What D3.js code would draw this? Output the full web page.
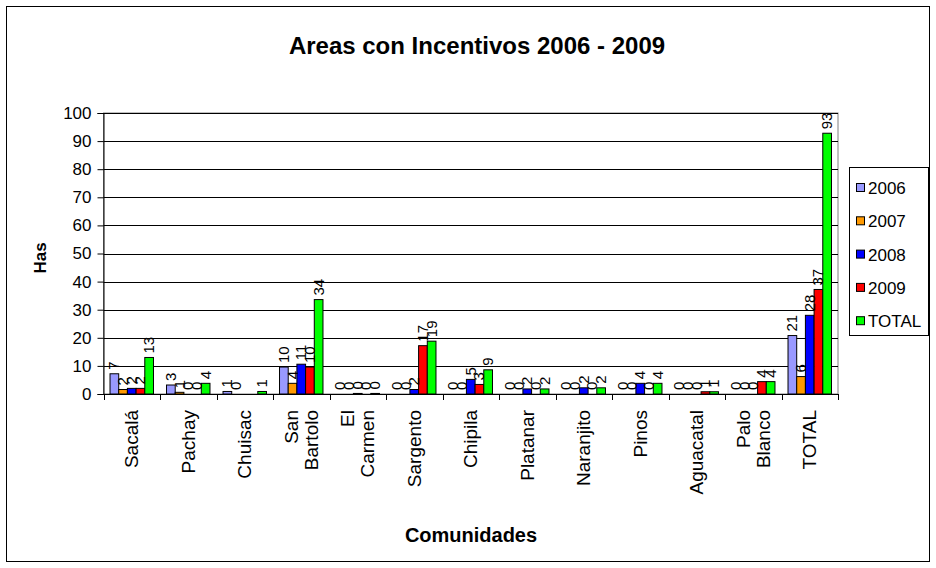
<!DOCTYPE html>
<html><head><meta charset="utf-8">
<script src="https://cdn.jsdelivr.net/npm/d3@7"></script>
<style>body{margin:0;background:#fff}svg{display:block}svg text{font-family:"Liberation Sans",Arial,sans-serif}</style>
</head><body><svg id="c" width="936" height="568"></svg>
<script>
const categories = [["Sacalá"],["Pachay"],["Chuisac"],["San","Bartolo"],["El","Carmen"],["Sargento"],["Chipila"],["Platanar"],["Naranjito"],["Pinos"],["Aguacatal"],["Palo","Blanco"],["TOTAL"]];
const seriesNames = ["2006","2007","2008","2009","TOTAL"];
const seriesColors = ["#9999FF","#FF9900","#0000FF","#FF0000","#00FF00"];
const v2006 = [7.2, 3.2, 0.9, 9.6, 0, 0, 0, 0, 0, 0, 0, 0, 20.8];
const v2007 = [1.6, 0.6, 0, 3.8, 0, 0, 0, 0, 0, 0, 0, 0, 6.2];
const v2008 = [2.0, 0, null, 10.6, 0.2, 1.6, 5.2, 1.8, 2.2, 3.8, 0, 0, 28.0];
const v2009 = [2.0, 0, null, 9.6, 0, 17.2, 3.4, 0, 0, 0, 0.8, 4.4, 37.2];
const vTotal = [13.0, 3.8, 0.9, 33.6, 0.2, 18.8, 8.6, 1.8, 2.2, 3.8, 0.8, 4.4, 92.8];
const yTicks = [0,10,20,30,40,50,60,70,80,90,100];
const seriesValues = [v2006, v2007, v2008, v2009, vTotal];

const FF = "'Liberation Sans', Arial, sans-serif";
const svg = d3.select("#c");
const L = 103.5, R = 838, T = 113, B = 394;

svg.append("rect").attr("x",6.5).attr("y",6.5).attr("width",923).attr("height",555)
  .attr("fill","#fff").attr("stroke","#000").attr("stroke-width",1);

const x = d3.scaleBand().domain(d3.range(categories.length)).range([L, R]).padding(0);
const gap = x.bandwidth()*1.5/6.5;
const xs = d3.scaleBand().domain(d3.range(seriesNames.length)).range([gap/2, x.bandwidth()-gap/2]).padding(0);
const y = d3.scaleLinear().domain([0,100]).range([B, T]);

svg.append("rect").attr("x",L).attr("y",T).attr("width",R-L).attr("height",B-T)
  .attr("fill","none").attr("stroke","#808080");
svg.append("g").selectAll("line").data(yTicks.filter(d=>d>0)).join("line")
  .attr("x1",L).attr("x2",R).attr("y1",d=>Math.round(y(d))+0.5).attr("y2",d=>Math.round(y(d))+0.5)
  .attr("stroke","#000");

const ya = svg.append("g").attr("transform",`translate(${L},0)`)
  .call(d3.axisLeft(y).tickValues(yTicks).tickSize(6).tickPadding(6));
ya.attr("font-family",FF);
ya.select(".domain").attr("stroke","#000");
ya.selectAll("text").attr("font-size","17px").attr("fill","#000");

const data = [];
categories.forEach((c,i)=>seriesValues.forEach((s,j)=>{ if(s[i]!==null) data.push({i,j,v:s[i]}); }));
svg.append("g").selectAll("rect").data(data.filter(d=>d.v>0)).join("rect")
  .attr("x",d=>x(d.i)+xs(d.j)).attr("width",xs.bandwidth())
  .attr("y",d=>y(d.v)).attr("height",d=>B-y(d.v))
  .attr("fill",d=>seriesColors[d.j]).attr("stroke","#000").attr("stroke-width",1);

const fmt = v => (Math.round(v)).toString();
svg.append("g").selectAll("text").data(data).join("text")
  .attr("transform",d=>`translate(${x(d.i)+xs(d.j)+xs.bandwidth()/2+5},${y(d.v)-4}) rotate(-90)`)
  .attr("font-size","15px").attr("fill","#000").text(d=>fmt(d.v));

svg.append("line").attr("x1",L).attr("x2",R).attr("y1",B+0.5).attr("y2",B+0.5).attr("stroke","#000");
svg.append("g").selectAll("line").data(d3.range(categories.length+1)).join("line")
  .attr("x1",d=>Math.round(L+d*x.step())+0.5).attr("x2",d=>Math.round(L+d*x.step())+0.5)
  .attr("y1",B).attr("y2",B+6).attr("stroke","#000");
const cl = svg.append("g").selectAll("text").data(categories).join("text")
  .attr("transform",(d,i)=>`translate(${x(i)+x.bandwidth()/2},410) rotate(-90)`)
  .attr("text-anchor","end").attr("font-size","19px").attr("fill","#000");
cl.each(function(d){
  const t = d3.select(this);
  const n = d.length;
  d.forEach((w,k)=>{
    t.append("tspan").attr("x",0).attr("y",(k-(n-1)/2)*20).attr("dy","0.35em").text(w);
  });
});

svg.append("text").attr("x",477).attr("y",54).attr("text-anchor","middle")
  .attr("font-size","24px").attr("font-weight","bold").text("Areas con Incentivos 2006 - 2009");
svg.append("text").attr("x",471).attr("y",542).attr("text-anchor","middle")
  .attr("font-size","20px").attr("font-weight","bold").text("Comunidades");
svg.append("text").attr("transform","translate(46,258) rotate(-90)").attr("text-anchor","middle")
  .attr("font-size","17px").attr("font-weight","bold").text("Has");

const lg = svg.append("g");
lg.append("rect").attr("x",849.5).attr("y",167.5).attr("width",79).attr("height",168)
  .attr("fill","#fff").attr("stroke","#000");
const items = lg.selectAll("g").data(seriesNames).join("g")
  .attr("transform",(d,i)=>`translate(856,${188+i*33.3})`);
items.append("rect").attr("x",0.5).attr("y",-4.5).attr("width",8).attr("height",8)
  .attr("fill",(d,i)=>seriesColors[i]).attr("stroke","#000");
items.append("text").attr("x",12).attr("y",0).attr("dy","0.36em").attr("font-size","17px").text(d=>d);
</script></body></html>
